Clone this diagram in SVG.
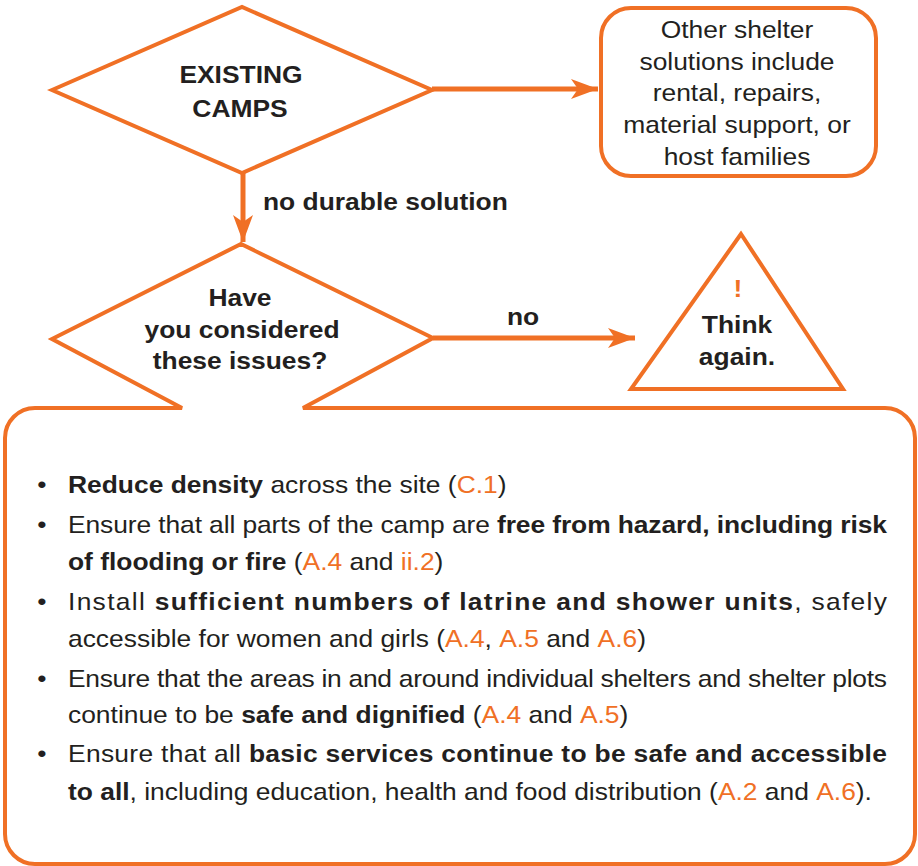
<svg xmlns="http://www.w3.org/2000/svg" width="918" height="866" viewBox="0 0 918 866">
<style>
.shape{fill:none;stroke:#F07025;stroke-width:4;stroke-linejoin:miter}
.conn{fill:none;stroke:#F07025;stroke-width:5}
.t{font-family:"Liberation Sans",Arial,Helvetica,sans-serif;font-size:24px;fill:#231F20}
.b{font-weight:bold}
.o{fill:#F07025}
</style>
<defs>
<marker id="ah" markerUnits="userSpaceOnUse" markerWidth="30" markerHeight="22" refX="27" refY="10" orient="auto">
<path d="M0,0 L27,10 L0,20 L7,10 Z" fill="#F07025"/>
</marker>
</defs>
<rect width="918" height="866" fill="#FFFFFF"/>
<g id="connectors">
<line class="conn" x1="432" y1="89" x2="598" y2="89" marker-end="url(#ah)"/>
<line class="conn" x1="243" y1="173" x2="243" y2="242" marker-end="url(#ah)"/>
<line class="conn" x1="433" y1="338" x2="635" y2="338" marker-end="url(#ah)"/>
<text class="t b" transform="translate(263,210) scale(1.1,1)">no durable solution</text>
<text class="t b" transform="translate(523,325) scale(1.1,1)" text-anchor="middle">no</text>
</g>
<g id="existing-camps">
<path class="shape" d="M52,90 L242,7 L432,90 L242,173 Z"/>
<text class="t b" transform="translate(241,83) scale(1.1,1)" text-anchor="middle">EXISTING</text>
<text class="t b" transform="translate(240,117) scale(1.1,1)" text-anchor="middle">CAMPS</text>
</g>
<g id="other-solutions">
<rect class="shape" x="601" y="8" width="275" height="168" rx="30" ry="30"/>
<text class="t" transform="translate(737,38) scale(1.1,1)" text-anchor="middle">Other shelter</text>
<text class="t" transform="translate(737,70) scale(1.1,1)" text-anchor="middle">solutions include</text>
<text class="t" transform="translate(737,101) scale(1.1,1)" text-anchor="middle">rental, repairs,</text>
<text class="t" transform="translate(737,133) scale(1.1,1)" text-anchor="middle">material support, or</text>
<text class="t" transform="translate(737,165) scale(1.1,1)" text-anchor="middle">host families</text>
</g>
<g id="think-again">
<path class="shape" d="M741,234 L631,389 L843,389 Z"/>
<text class="t b o" transform="translate(738,297) scale(1.1,1)" text-anchor="middle">!</text>
<text class="t b" transform="translate(737,333) scale(1.1,1)" text-anchor="middle">Think</text>
<text class="t b" transform="translate(737,365) scale(1.1,1)" text-anchor="middle">again.</text>
</g>
<g id="considered-issues">
<path class="shape" d="M182,408 L52,339 L241,244 L433,338 L303,408 H885 A30,30 0 0 1 915,438 V834 A30,30 0 0 1 885,864 H35 A30,30 0 0 1 5,834 V438 A30,30 0 0 1 35,408 Z"/>
<text class="t b" transform="translate(240,306) scale(1.1,1)" text-anchor="middle">Have</text>
<text class="t b" transform="translate(242,338) scale(1.1,1)" text-anchor="middle">you considered</text>
<text class="t b" transform="translate(240,369) scale(1.1,1)" text-anchor="middle">these issues?</text>
</g>
<g id="checklist">
<text class="t" transform="translate(42,493) scale(1.1,1)" text-anchor="middle">•</text>
<text class="t" transform="translate(42,533) scale(1.1,1)" text-anchor="middle">•</text>
<text class="t" transform="translate(42,610) scale(1.1,1)" text-anchor="middle">•</text>
<text class="t" transform="translate(42,687) scale(1.1,1)" text-anchor="middle">•</text>
<text class="t" transform="translate(42,762) scale(1.1,1)" text-anchor="middle">•</text>
<text class="t" transform="translate(68,493) scale(1.1,1)"><tspan class="b">Reduce density</tspan> across the site (<tspan class="o">C.1</tspan>)</text>
<text class="t" transform="translate(68,533) scale(1.1,1)" textLength="744.5" lengthAdjust="spacing">Ensure that all parts of the camp are <tspan class="b">free from hazard, including risk</tspan></text>
<text class="t" transform="translate(68,570) scale(1.1,1)"><tspan class="b">of flooding or fire</tspan> (<tspan class="o">A.4</tspan> and <tspan class="o">ii.2</tspan>)</text>
<text class="t" transform="translate(68,610) scale(1.1,1)" textLength="744.5" lengthAdjust="spacing">Install <tspan class="b">sufficient numbers of latrine and shower units</tspan>, safely</text>
<text class="t" transform="translate(68,647) scale(1.1,1)">accessible for women and girls (<tspan class="o">A.4</tspan>, <tspan class="o">A.5</tspan> and <tspan class="o">A.6</tspan>)</text>
<text class="t" transform="translate(68,687) scale(1.1,1)" textLength="744.5" lengthAdjust="spacing">Ensure that the areas in and around individual shelters and shelter plots</text>
<text class="t" transform="translate(68,723) scale(1.1,1)">continue to be <tspan class="b">safe and dignified</tspan> (<tspan class="o">A.4</tspan> and <tspan class="o">A.5</tspan>)</text>
<text class="t" transform="translate(68,762) scale(1.1,1)" textLength="744.5" lengthAdjust="spacing">Ensure that all <tspan class="b">basic services continue to be safe and accessible</tspan></text>
<text class="t" transform="translate(68,800) scale(1.1,1)"><tspan class="b">to all</tspan>, including education, health and food distribution (<tspan class="o">A.2</tspan> and <tspan class="o">A.6</tspan>).</text>
</g>
</svg>
